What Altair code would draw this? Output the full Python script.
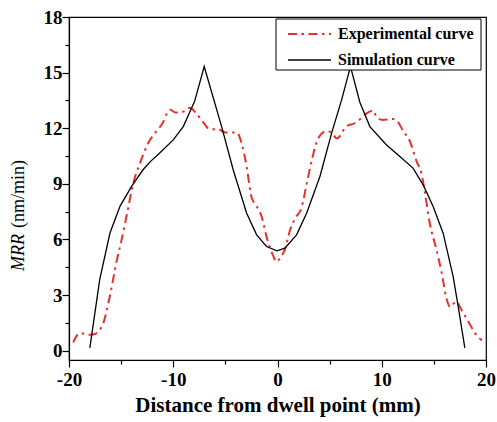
import altair as alt
import pandas as pd

# Experimental curve (red dash-dot)
exp_x = [-19.6, -19.2, -18.9, -18.4, -18.0, -17.5, -17.2, -16.7, -16.1, -15.4, -14.95, -14.5,
         -13.85, -13.2, -12.4, -11.6, -11.0, -10.6, -10.3, -9.8, -9.0, -8.4, -7.8, -7.1, -6.5,
         -5.7, -5.0, -3.9, -3.45, -2.95, -2.5, -2.0, -1.5, -1.05, -0.4, -0.1, 0.25, 0.7, 1.2,
         1.7, 2.3, 2.8, 3.3, 3.9, 4.7, 5.2, 5.7, 6.6, 7.4, 8.05, 8.55, 9.2, 9.5, 10.1, 11.1,
         11.6, 12.05, 12.7, 13.35, 13.8, 14.15, 14.6, 15.25, 15.75, 16.2, 16.55, 17.15, 17.65,
         18.3, 18.95, 19.6]
exp_y = [0.45, 0.85, 0.95, 0.9, 0.86, 0.9, 1.04, 1.5, 2.9, 4.9, 6.0, 7.2,
         9.0, 10.1, 11.2, 11.85, 12.3, 12.8, 13.0, 12.85, 12.9, 13.1, 12.8, 12.3, 11.95,
         11.95, 11.77, 11.77, 11.2, 9.9, 8.3, 7.8, 7.2, 6.15, 5.1, 4.8, 5.0, 5.45, 6.5,
         7.15, 7.7, 9.0, 10.3, 11.45, 11.85, 11.75, 11.45, 12.1, 12.27, 12.55, 12.8, 12.95, 12.6, 12.45, 12.5,
         12.3, 11.85, 11.3, 10.2, 9.6, 8.5, 6.9, 5.45, 4.2, 2.85, 2.36, 2.66, 2.2,
         1.58, 0.95, 0.55]

# Simulation curve (black solid)
sim_x = [-18.0, -17.05, -16.07, -15.1, -14.0, -12.9, -12.2, -11.3, -10.0, -9.04, -7.95, -7.03,
         -5.36, -4.25, -2.96, -2.0, -1.05, -0.05, 0.71, 1.83, 2.79, 4.07, 5.19, 6.15, 7.0,
         7.9, 8.86, 10.46, 11.74, 13.0, 13.97, 14.93, 15.89, 16.85, 17.33, 17.97]
sim_y = [0.15, 3.85, 6.35, 7.8, 8.86, 9.76, 10.2, 10.66, 11.37, 12.09, 13.45, 15.33,
         12.09, 9.76, 7.42, 6.25, 5.62, 5.39, 5.53, 6.25, 7.42, 9.4, 11.74, 13.53, 15.33,
         13.4, 12.09, 11.1, 10.47, 9.85, 8.95, 7.78, 6.34, 4.0, 2.39, 0.15]

x_major = [-20, -10, 0, 10, 20]
x_minor = [-15, -5, 5, 15]
y_major = [0, 3, 6, 9, 12, 15, 18]
y_minor = [1.5, 4.5, 7.5, 10.5, 13.5, 16.5]
legend_labels = ["Experimental curve", "Simulation curve"]
x_title = "Distance from dwell point (mm)"
y_title_italic = "MRR"
y_title_rest = "(nm/min)"

FONT = "Liberation Serif"
RED = "#e8302a"
RED_DASH = [9, 4.5, 2.5, 4.5]

exp_df = pd.DataFrame({"x": exp_x, "y": exp_y})
sim_df = pd.DataFrame({"x": sim_x, "y": sim_y})

x_scale = alt.Scale(domain=[-20, 20], nice=False, zero=False)
y_scale = alt.Scale(domain=[-0.5, 18], nice=False, zero=False)

label_style = dict(labelFont=FONT, labelFontSize=19, labelFontWeight="bold",
                   labelColor="black", labelFlush=False)

x_major_axis = alt.Axis(
    values=x_major, orient="bottom", tickSize=7, labelPadding=3,
    labelExpr="'' + datum.value",
    title=x_title, titleFont=FONT, titleFontSize=21, titleFontWeight="bold",
    titleColor="black", titleBaseline="alphabetic", titleY=51,
    **label_style,
)
y_major_axis = alt.Axis(
    values=y_major, orient="left", tickSize=7, labelPadding=0, title=None, **label_style
)
x_minor_axis = alt.Axis(values=x_minor, orient="bottom", tickSize=4, labels=False, domain=False, title=None)
y_minor_axis = alt.Axis(values=y_minor, orient="left", tickSize=4, labels=False, domain=False, title=None)

exp_line = alt.Chart(exp_df).mark_line(
    color=RED, strokeWidth=2, strokeDash=RED_DASH, interpolate="monotone"
).encode(
    x=alt.X("x:Q", scale=x_scale, axis=x_major_axis),
    y=alt.Y("y:Q", scale=y_scale, axis=y_major_axis),
)

sim_line = alt.Chart(sim_df).mark_line(color="black", strokeWidth=1.3).encode(
    x=alt.X("x:Q", scale=x_scale, axis=x_minor_axis),
    y=alt.Y("y:Q", scale=y_scale, axis=y_minor_axis),
)

curves = alt.layer(exp_line, sim_line).resolve_axis(x="independent", y="independent")

one = alt.Data(values=[{"a": 1}])

legend_box = alt.Chart(one).mark_rect(fill="white", stroke="black", strokeWidth=1).encode(
    x=alt.value(207), x2=alt.value(412), y=alt.value(2), y2=alt.value(53)
)
legend_red = alt.Chart(one).mark_rule(color=RED, strokeWidth=2, strokeDash=RED_DASH).encode(
    x=alt.value(219), x2=alt.value(262), y=alt.value(17)
)
legend_black = alt.Chart(one).mark_rule(color="black", strokeWidth=1.3).encode(
    x=alt.value(219), x2=alt.value(262), y=alt.value(43)
)
legend_t1 = alt.Chart(one).mark_text(
    align="left", baseline="middle", font=FONT, fontSize=16, fontWeight="bold", color="black"
).encode(x=alt.value(269), y=alt.value(17), text=alt.value(legend_labels[0]))
legend_t2 = alt.Chart(one).mark_text(
    align="left", baseline="middle", font=FONT, fontSize=16, fontWeight="bold", color="black"
).encode(x=alt.value(269), y=alt.value(43), text=alt.value(legend_labels[1]))

ytitle1 = alt.Chart(one).mark_text(
    angle=270, align="left", baseline="middle", font=FONT, fontSize=18,
    fontStyle="italic", color="black"
).encode(x=alt.value(-50), y=alt.value(254), text=alt.value(y_title_italic))
ytitle2 = alt.Chart(one).mark_text(
    angle=270, align="left", baseline="middle", font=FONT, fontSize=18, color="black"
).encode(x=alt.value(-50), y=alt.value(211), text=alt.value(y_title_rest))

chart = alt.layer(
    curves, legend_box, legend_red, legend_black, legend_t1, legend_t2, ytitle1, ytitle2
).properties(
    width=417,
    height=343,
    autosize=alt.AutoSizeParams(type="none"),
    padding={"left": 69, "top": 17, "right": 11, "bottom": 62},
    background="white",
).configure_view(
    stroke="black", strokeWidth=1.2
).configure_axis(
    grid=False,
    domainColor="black",
    domainWidth=1.2,
    tickColor="black",
    tickWidth=1.2,
    labelFont=FONT,
    labelFontWeight="bold",
)

chart.save("out.html", embed_options={"renderer": "svg", "actions": False})
